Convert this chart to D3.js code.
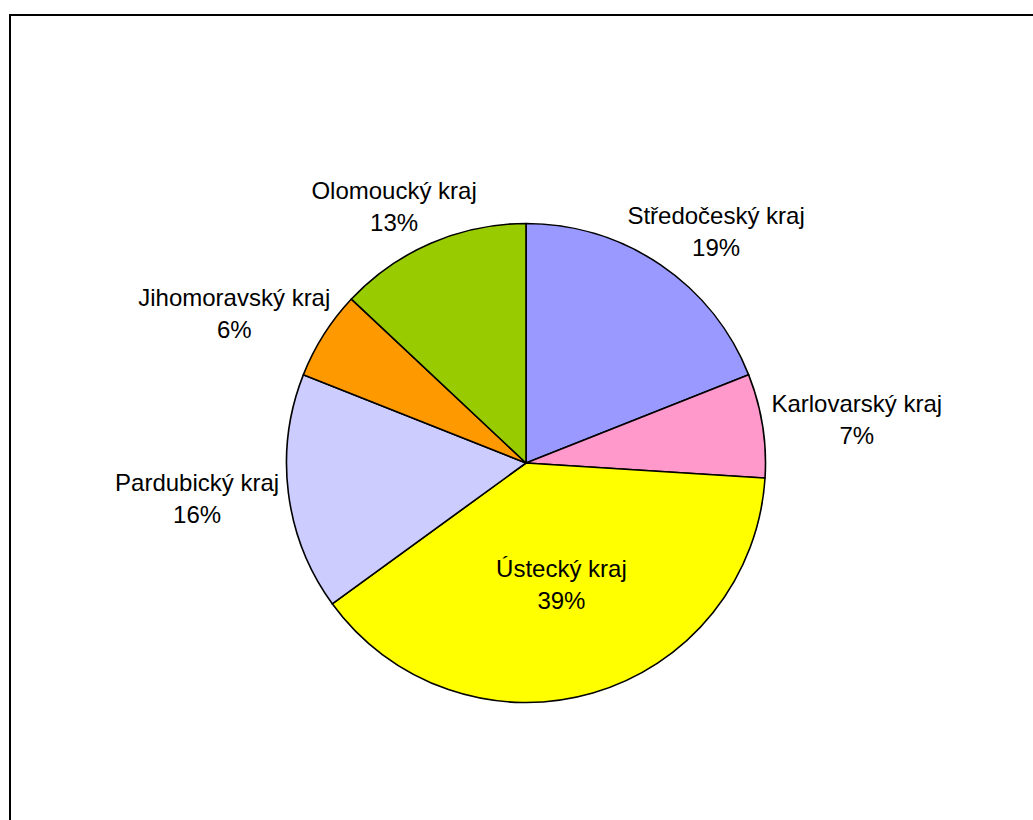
<!DOCTYPE html>
<html>
<head>
<meta charset="utf-8">
<script src="https://cdn.jsdelivr.net/npm/d3@7"></script>
<style>
  html, body { margin: 0; padding: 0; background: #fff; }
  svg { display: block; }
  text { font-family: "Liberation Sans", Arial, sans-serif; font-size: 24px; fill: #000; }
</style>
</head>
<body>
<svg id="chart" width="1033" height="820"></svg>
<script>
// Regions and their shares, in drawing order clockwise from 12 o'clock
const categories = ["Středočeský kraj", "Karlovarský kraj", "Ústecký kraj", "Pardubický kraj", "Jihomoravský kraj", "Olomoucký kraj"];
const values = [19, 7, 39, 16, 6, 13];
const colors = ["#9999FF", "#FF99CC", "#FFFF00", "#CCCCFF", "#FF9900", "#99CC00"];

const W = 1033, H = 820;
const cx = 526, cy = 463, R = 239.5;

const svg = d3.select("#chart");

// Chart area frame (continues past the right and bottom edges)
svg.append("rect")
  .attr("x", 10).attr("y", 15)
  .attr("width", 1100).attr("height", 900)
  .attr("fill", "#fff")
  .attr("stroke", "#000")
  .attr("stroke-width", 2);

const data = categories.map((c, i) => ({ name: c, value: values[i], color: colors[i] }));
const total = d3.sum(values);

const pie = d3.pie().value(d => d.value).sort(null);
const arc = d3.arc().innerRadius(0).outerRadius(R);
const arcs = pie(data);

const g = svg.append("g").attr("transform", `translate(${cx},${cy})`);

g.selectAll("path.slice")
  .data(arcs)
  .join("path")
  .attr("class", "slice")
  .attr("d", arc)
  .attr("fill", d => d.data.color)
  .attr("stroke", "#000")
  .attr("stroke-width", 1.6)
  .attr("stroke-linejoin", "round");

// Data labels: category name over percentage
const lineGap = 32, boxH = 60, gap = 10;
const fmt = d3.format(".0%");

arcs.forEach(d => {
  const mid = (d.startAngle + d.endAngle) / 2;
  const s = Math.sin(mid), c = Math.cos(mid);
  const t = g.append("text").attr("text-anchor", "middle");
  const l1 = t.append("tspan").attr("x", 0).text(d.data.name);
  const l2 = t.append("tspan").attr("x", 0).text(fmt(d.data.value / total));
  const w = t.node().getBBox().width;

  let lx, ly;
  if (d.data.value / total > 0.3) {
    // large slice: label sits inside
    const r = R * 0.53;
    lx = r * s; ly = -r * c;
  } else {
    // outside: box touches a point just beyond the rim
    const px = (R + gap) * s, py = -(R + gap) * c;
    lx = px + s * w / 2;
    ly = py - c * boxH / 2;
  }
  l1.attr("x", lx).attr("y", ly - 7.5);
  l2.attr("x", lx).attr("y", ly - 7.5 + lineGap);
});
</script>
</body>
</html>
